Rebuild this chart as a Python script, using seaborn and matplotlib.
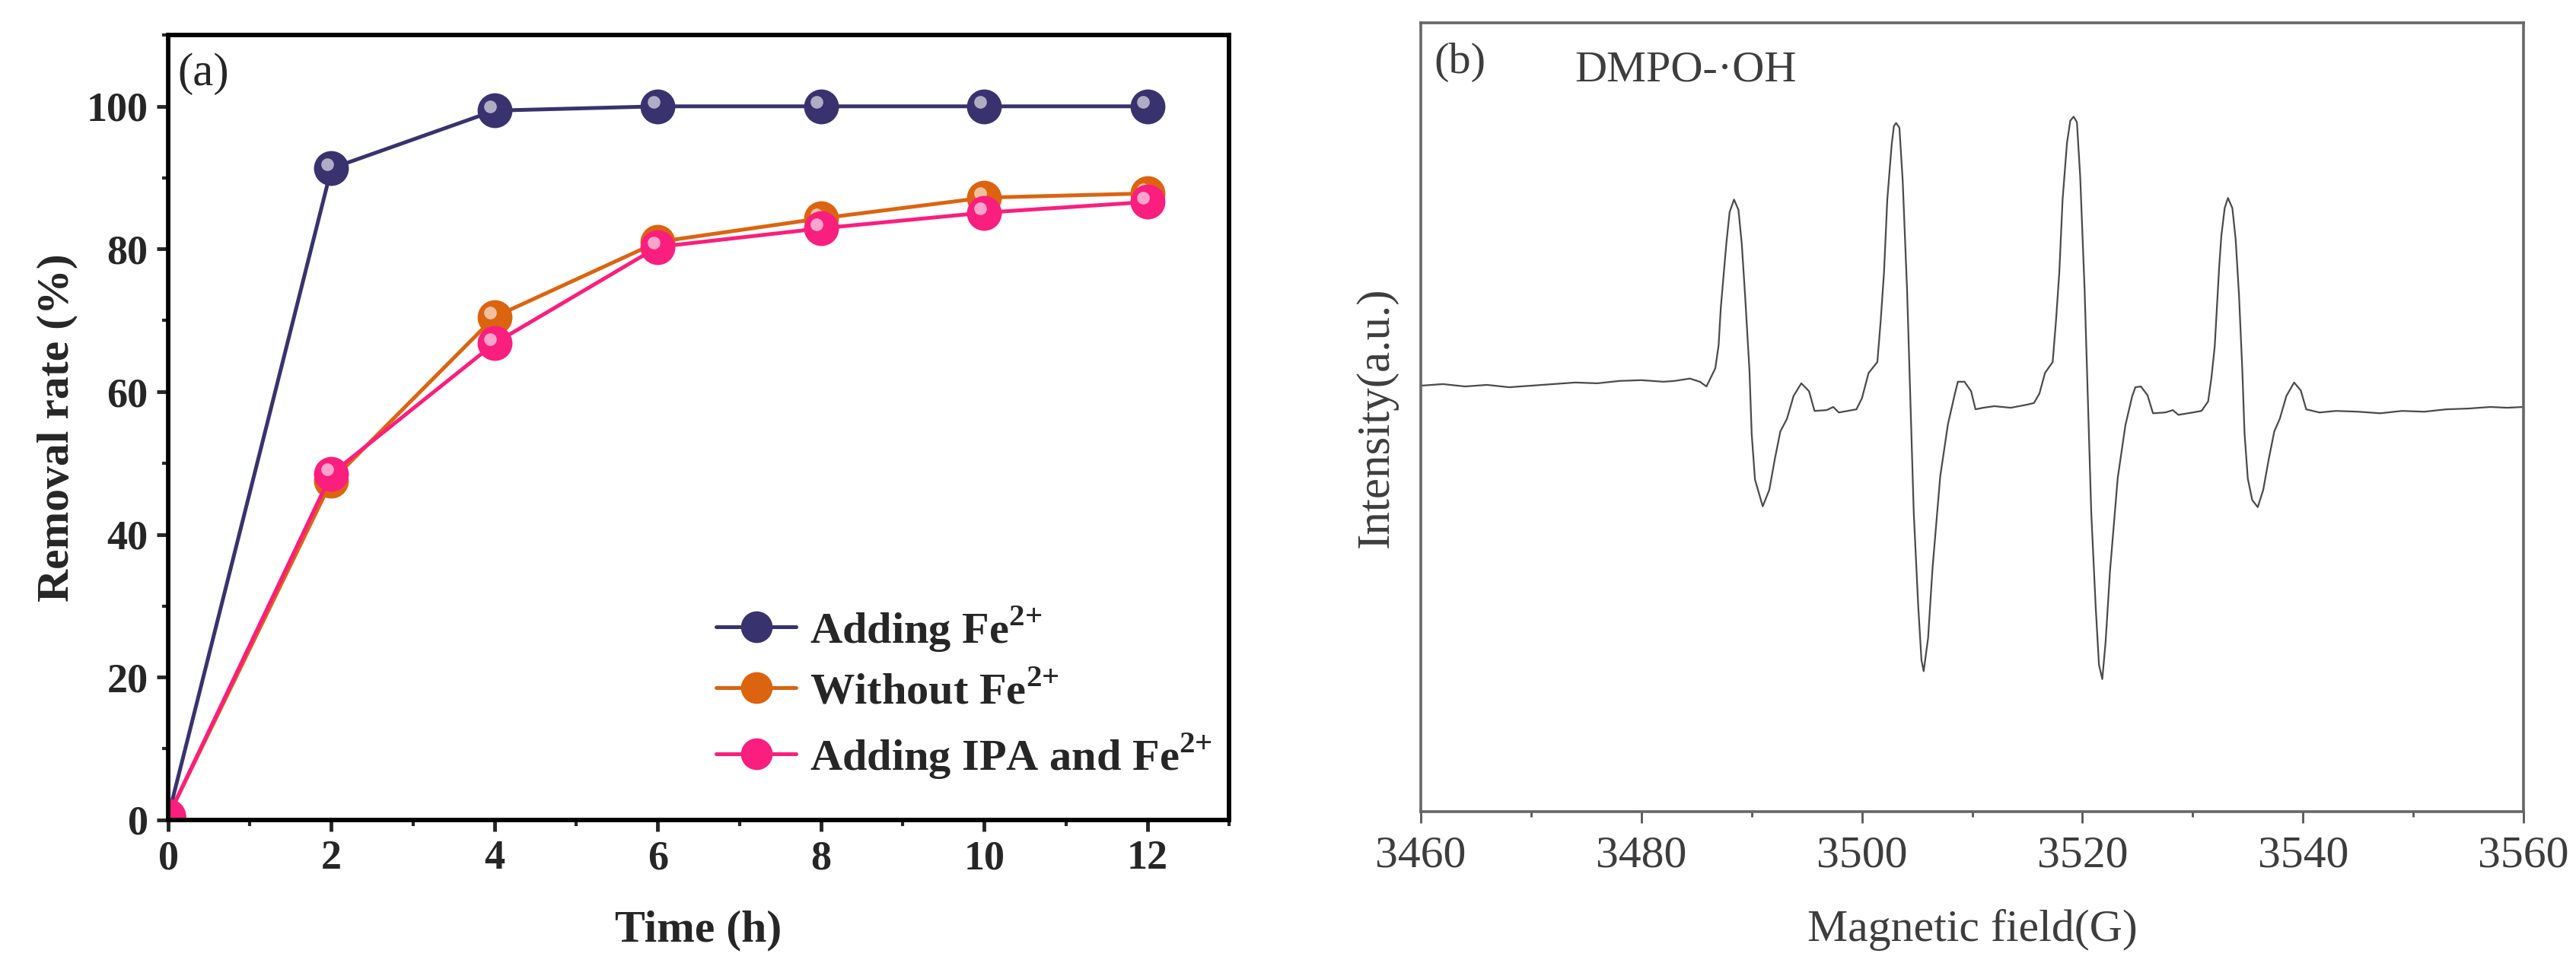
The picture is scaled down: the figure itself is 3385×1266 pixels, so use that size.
import matplotlib
matplotlib.use("Agg")
import matplotlib.pyplot as plt
import matplotlib.transforms as mtransforms
from matplotlib.ticker import MultipleLocator
import seaborn as sns

sns.set_style("white")
plt.rcParams["font.family"] = ["Liberation Serif", "DejaVu Serif"]
plt.rcParams["mathtext.fontset"] = "custom"
plt.rcParams["mathtext.rm"] = "Liberation Serif:bold"
plt.rcParams["mathtext.bf"] = "Liberation Serif:bold"

# (a) removal rate vs time
time_h = [0, 2, 4, 6, 8, 10, 12]
adding_fe = [0.5, 91.3, 99.4, 100.0, 100.0, 100.0, 100.0]
without_fe = [0.5, 47.5, 70.5, 81.0, 84.3, 87.2, 87.8]
adding_ipa_fe = [0.5, 48.5, 66.8, 80.3, 82.9, 85.1, 86.6]
series_names = [r"Adding Fe$^{2{+}}$", r"Without Fe$^{2{+}}$", r"Adding IPA and Fe$^{2{+}}$"]
series_colors = ["#38336E", "#DC6410", "#FA1E7E"]

# (b) EPR spectrum DMPO-.OH (intensity in % of axis height)
field_g = [3460.0, 3462.0, 3464.0, 3466.0, 3468.0, 3470.0, 3472.0, 3474.0, 3476.0, 3478.0,
           3480.0, 3482.0, 3483.0, 3484.4, 3485.3, 3485.9, 3486.7, 3487.0, 3487.2, 3487.5,
           3487.7, 3488.0, 3488.4, 3488.8, 3489.1, 3489.4, 3489.8, 3490.0, 3490.3, 3491.0,
           3491.6, 3492.1, 3492.6, 3493.2, 3493.8, 3494.5, 3495.2, 3495.7, 3496.8, 3497.4,
           3497.9, 3499.5,
           3500.0, 3500.6, 3501.4, 3501.7, 3502.0, 3502.3, 3502.7, 3502.9, 3503.1, 3503.4,
           3503.7, 3504.1, 3504.4, 3504.7, 3505.1, 3505.4, 3505.6, 3506.0, 3506.4, 3507.1,
           3507.8, 3508.4, 3508.7, 3509.3, 3509.9, 3510.3, 3511.0,
           3512.0, 3513.5, 3515.0, 3515.6, 3516.1, 3516.6, 3517.3, 3517.6, 3517.9, 3518.2,
           3518.6, 3518.9, 3519.2, 3519.5, 3519.8, 3520.2, 3520.5, 3520.8, 3521.2, 3521.5,
           3521.8, 3522.1, 3522.5, 3523.2, 3523.9, 3524.5, 3524.8, 3525.3, 3525.9, 3526.4,
           3527.5, 3528.2, 3528.7, 3530.0, 3530.8,
           3531.4, 3531.7, 3532.0, 3532.2, 3532.4, 3532.6, 3532.9, 3533.2, 3533.6, 3533.9,
           3534.2, 3534.5, 3534.7, 3535.0, 3535.4, 3535.9, 3536.4, 3536.9, 3537.4, 3537.9,
           3538.5, 3539.2, 3539.8, 3540.3, 3541.5, 3543.0, 3545.0, 3547.0, 3549.0, 3551.0,
           3553.0, 3555.0, 3557.0, 3558.5, 3560.0]
intensity = [54.0, 54.2, 53.9, 54.1, 53.8, 54.0, 54.2, 54.4, 54.3, 54.6,
             54.7, 54.5, 54.6, 54.9, 54.5, 53.9, 56.2, 59.1, 63.9, 68.8,
             72.0, 76.0, 77.6, 76.3, 72.0, 65.5, 55.9, 47.9, 42.1, 38.7,
             40.8, 44.7, 48.2, 49.8, 52.7, 54.3, 53.3, 50.8, 50.9, 51.3,
             50.6, 51.0,
             52.4, 55.6, 57.0, 62.2, 68.3, 77.6, 84.6, 86.9, 87.3, 86.7,
             79.9, 65.9, 51.9, 37.9, 26.2, 19.2, 17.8, 22.0, 30.8, 42.5,
             49.1, 52.8, 54.5, 54.5, 53.3, 51.0, 51.2,
             51.4, 51.2, 51.6, 51.8, 53.0, 55.6, 57.0, 62.2, 68.3, 77.6,
             84.8, 87.6, 88.1, 87.4, 80.4, 66.0, 51.9, 37.9, 26.0, 18.6,
             16.8, 21.5, 30.5, 42.3, 49.0, 52.6, 53.8, 53.9, 52.8, 50.5,
             50.6, 50.9, 50.3, 50.6, 50.8,
             52.0, 55.0, 59.0, 64.0, 69.0, 73.0, 76.5, 77.8, 76.5, 72.5,
             65.5, 56.0, 48.0, 42.2, 39.5, 38.6, 40.8, 44.7, 48.2, 49.8,
             52.7, 54.4, 53.4, 51.0, 50.6, 50.8, 50.7, 50.5, 50.8, 50.7,
             51.0, 51.1, 51.3, 51.2, 51.3]

fig = plt.figure(figsize=(33.85, 12.66), dpi=100)
ax1 = fig.add_axes([0.0653, 0.1485, 0.4118, 0.8152])
ax2 = fig.add_axes([0.5516, 0.1572, 0.4280, 0.8191])

# ---- panel (a)
for ys, name, col in zip([adding_fe, without_fe, adding_ipa_fe], series_names, series_colors):
    sns.lineplot(x=time_h, y=ys, ax=ax1, color=col, lw=3.6, marker="o", markersize=33,
                 markeredgecolor=col, markeredgewidth=0, label=name)
    shine = mtransforms.offset_copy(ax1.transData, fig=fig, x=-4, y=4, units="points")
    ax1.plot(time_h, ys, ls="none", marker="o", markersize=12, color="white", alpha=0.6,
             markeredgewidth=0, transform=shine)

ax1.set_xlim(0, 13)
ax1.set_ylim(0, 110)
ax1.xaxis.set_major_locator(MultipleLocator(2))
ax1.xaxis.set_minor_locator(MultipleLocator(1))
ax1.yaxis.set_major_locator(MultipleLocator(20))
ax1.yaxis.set_minor_locator(MultipleLocator(10))
ax1.tick_params(which="major", direction="out", length=11, width=3.5, labelsize=39,
                bottom=True, left=True, pad=8)
ax1.tick_params(which="minor", direction="out", length=6, width=3, bottom=True, left=True)
for lab in ax1.get_xticklabels() + ax1.get_yticklabels():
    lab.set_fontweight("bold")
for sp in ax1.spines.values():
    sp.set_linewidth(4.2)
    sp.set_color("black")
ax1.set_xlabel("Time (h)", fontsize=43, fontweight="bold", labelpad=30)
ax1.set_ylabel("Removal rate (%)", fontsize=43, fontweight="bold", labelpad=8)
ax1.text(0.009, 0.977, "(a)", transform=ax1.transAxes, fontsize=44, va="top", ha="left")
leg = ax1.legend(loc="lower left", bbox_to_anchor=(0.5, 0.028), frameon=False,
                 handlelength=1.8, handletextpad=0.3, labelspacing=0.42, borderaxespad=0,
                 prop={"weight": "bold", "size": 42})
for h in leg.legend_handles:
    h.set_markersize(30)

# ---- panel (b)
grey = "#3d3d3d"
sns.lineplot(x=field_g, y=intensity, ax=ax2, color="#4a4a4a", lw=1.6, sort=False)
ax2.set_xlim(3460, 3560)
ax2.set_ylim(0, 100)
ax2.xaxis.set_major_locator(MultipleLocator(20))
ax2.xaxis.set_minor_locator(MultipleLocator(10))
ax2.set_yticks([])
ax2.tick_params(axis="x", which="major", direction="out", length=11, width=2,
                labelsize=43, bottom=True, colors="#555555", labelcolor=grey, pad=12)
ax2.tick_params(axis="x", which="minor", direction="out", length=5, width=2, bottom=True,
                colors="#555555")
for sp in ax2.spines.values():
    sp.set_linewidth(2.6)
    sp.set_color("#666666")
ax2.set_xlabel("Magnetic field(G)", fontsize=43, color=grey, labelpad=30)
ax2.set_ylabel("Intensity(a.u.)", fontsize=44, color=grey, labelpad=22)
ax2.text(0.012, 0.975, "(b)", transform=ax2.transAxes, fontsize=42, va="top", ha="left",
         color=grey)
ax2.text(0.24, 0.94, "DMPO-·OH", transform=ax2.transAxes, fontsize=42, va="center",
         ha="center", color=grey)

fig.savefig("out.png", dpi=100, facecolor="white")
